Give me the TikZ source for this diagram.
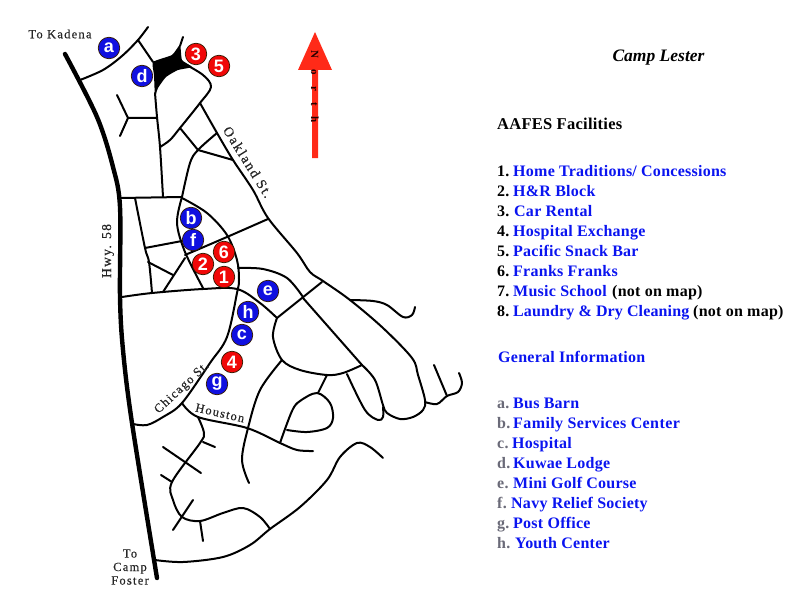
\documentclass[tikz,border=0pt]{standalone}
\usepackage{fontspec}
\setmainfont{Liberation Serif}
\newfontfamily\pinfont{Liberation Sans}[Scale=1]
\definecolor{linkblue}{HTML}{0A14F0}
\definecolor{pinblue}{HTML}{1010E0}
\definecolor{pinred}{HTML}{F00808}
\definecolor{arrowred}{HTML}{FF2A18}
\definecolor{labelgrey}{HTML}{6A6A78}
\definecolor{maptext}{HTML}{262626}
\tikzset{
  road/.style={line width=2pt,line cap=round,line join=round,black},
  highway/.style={line width=4.4pt,line cap=round,line join=round,black},
  pin/.style={circle,draw=black!80!orange,line width=0.7pt,text=white,minimum size=21.5pt,inner sep=0pt,font=\pinfont\bfseries\fontsize{18}{18}\selectfont},
  bluepin/.style={pin,fill=pinblue},
  redpin/.style={pin,fill=pinred},
  maplabel/.style={text=maptext,inner sep=0pt,font=\fontsize{12.5}{13.5}\selectfont\addfontfeature{LetterSpace=10,FakeBold=0.4}},
  listnum/.style={anchor=base west,inner sep=0pt,font=\bfseries\fontsize{16}{16}\selectfont\addfontfeature{LetterSpace=1.6},text=black},
  listgrey/.style={listnum,text=labelgrey},
  listlink/.style={listnum,text=linkblue},
}
\newcommand{\curve}[2][road]{\draw[#1] plot[smooth,tension=0.55] coordinates {#2};}
\begin{document}
\begin{tikzpicture}[x=1pt,y=-1pt]
\useasboundingbox (0,0) rectangle (800,591);
% highway
\curve[highway]{(65,54) (97,117) (113,167) (120,207) (120,297) (123,350) (132,423) (157,578)}
% junction blob
\fill[black] plot[smooth cycle,tension=0.3] coordinates {(153,62) (172,55) (180,45) (182,60) (192,67) (178,70) (166,77) (158,88) (155,96) (154,75)};
% north part
\curve{(80,80) (103,70) (122,56) (138,40) (148,27)}
\draw[road] (138,40) -- (153,62);
\draw[road] (180,46) -- (183,37);
\curve{(183,63) (203,75) (211,87) (200,103) (180,128) (170,140) (160,147)}
\curve{(155,93) (157,117) (160,147) (163,197)}
\draw[road] (157,118) -- (128,118) -- (117,95);
\draw[road] (128,118) -- (120,136);
\curve{(200,103) (217,133) (233,160) (253,190) (268,218) (297,253) (310,272) (323,281) (350,300) (383,328) (412,358) (418,375) (425,400) (423,410) (413,417) (400,419) (387,413) (383,405) (375,380) (362,365)}
\curve{(350,300) (373,301) (387,305) (403,317) (412,315) (415,307)}
\draw[road] (303,298) -- (362,365);
\curve{(182,197) (190,163) (198,150) (217,133)}
\draw[road] (180,128) -- (198,150) -- (233,160);
% centre
\draw[road] (120,198) -- (182,197);
\curve{(135,198) (145,248) (149,262) (152,293)}
\draw[road] (145,248) -- (182,241);
\draw[road] (148,262) -- (173,275);
\draw[road] (163,292) -- (185,258);
\curve{(185,255) (227,237) (268,219)}
\curve{(122,297) (152,293) (203,289) (237,289) (260,303) (277,318)}
\curve{(182,197) (177,223) (185,252) (203,288)}
\curve{(182,198) (207,213) (227,235) (237,260) (239,280) (237,293) (227,337) (210,363) (182,403) (163,417) (147,425) (133,424)}
\curve{(238,268) (263,269) (287,278) (303,297)}
\draw[road] (277,318) -- (322,282);
\curve{(277,318) (273,337) (282,360) (300,370) (327,375) (343,373) (362,365)}
\curve{(282,360) (260,390) (248,428) (242,460) (249,483)}
\draw[road] (327,375) -- (318,393);
\curve{(347,374) (365,410) (378,420) (383,417) (383,407)}
\curve{(425,402) (437,404) (447,396) (458,392) (462,383) (459,373)}
\draw[road] (434,365) -- (447,396);
% south part
\curve{(182,403) (198,417) (247,428) (280,443) (297,450) (313,451)}
\curve{(280,443) (292,411) (300,401) (317,393) (330,403) (333,418) (327,428) (307,432) (287,430)}
\curve{(198,417) (204,433) (200,443) (172,482) (173,500) (182,517) (200,521) (223,513) (243,508) (260,517) (270,529)}
\draw[road] (203,442) -- (215,447);
\draw[road] (163,447) -- (201,473);
\draw[road] (161,475) -- (172,482);
\draw[road] (193,500) -- (173,530);
\draw[road] (200,521) -- (203,541);
\curve{(155,560) (183,562) (223,557) (250,545) (270,529) (300,507) (327,480) (340,457) (357,443) (370,447) (383,458)}
% north arrow
\fill[arrowred] (315,32) -- (332,70) -- (318,70) -- (318,158) -- (312,158) -- (312,70) -- (298,70) -- cycle;
\node[rotate=-90,inner sep=0pt,text=black!85!red,font=\bfseries\fontsize{11}{11}\selectfont\addfontfeature{LetterSpace=100}] (north) at (315,87) {North};
% pins
\node[bluepin] (a) at (109,48) {a};
\node[bluepin] (d) at (142,76) {d};
\node[redpin] (p3) at (196,54) {3};
\node[redpin] (p5) at (219,66) {5};
\node[bluepin] (b) at (191,218) {b};
\node[bluepin] (f) at (193,240) {f};
\node[redpin] (p6) at (224,252) {6};
\node[redpin] (p2) at (203,264) {2};
\node[redpin] (p1) at (224,277) {1};
\node[bluepin] (e) at (268,291) {e};
\node[bluepin] (h) at (248,312) {h};
\node[bluepin] (c) at (242,335) {c};
\node[redpin] (p4) at (232,362) {4};
\node[bluepin] (g) at (217,384) {g};
% map labels
\node[maplabel] (kadena) at (60,34) {To Kadena};
\node[maplabel,rotate=-58,font=\fontsize{14}{14}\selectfont\addfontfeature{LetterSpace=12,FakeBold=0.4}] (oakland) at (248,162) {Oakland St.};
\node[maplabel,rotate=90,font=\fontsize{13.5}{14}\selectfont\addfontfeature{LetterSpace=10,FakeBold=0.4}] (hwy) at (108,251) {Hwy. 58};
\node[maplabel,rotate=43] (chicago) at (182,388) {Chicago St.};
\node[maplabel,rotate=-13] (houston) at (220,413) {Houston};
\node[maplabel,align=center] (foster) at (130,567) {To\\Camp\\Foster};
% right column
\node[inner sep=0pt,font=\bfseries\itshape\fontsize{17.5}{18}\selectfont] (title) at (658.5,58) {Camp Lester};
\node[listnum,font=\bfseries\fontsize{16.5}{16}\selectfont\addfontfeature{LetterSpace=1.6}] (aafes) at (497,130) {AAFES Facilities};
\node[listnum] (n1) at (497,176) {1.};
\node[listlink] (t1) at (513,176) {Home Traditions/ Concessions};
\node[listnum] (n2) at (497,196) {2.};
\node[listlink] (t2) at (513,196) {H\&R Block};
\node[listnum] (n3) at (497,216) {3.};
\node[listlink] (t3) at (514,216) {Car Rental};
\node[listnum] (n4) at (497,236) {4.};
\node[listlink] (t4) at (513,236) {Hospital Exchange};
\node[listnum] (n5) at (497,256) {5.};
\node[listlink] (t5) at (513,256) {Pacific Snack Bar};
\node[listnum] (n6) at (497,276) {6.};
\node[listlink] (t6) at (513,276) {Franks Franks};
\node[listnum] (n7) at (497,296) {7.};
\node[listlink] (t7) at (513,296) {Music School};
\node[listnum] (m7) at (612,296) {(not on map)};
\node[listnum] (n8) at (497,316) {8.};
\node[listlink,font=\bfseries\fontsize{16}{16}\selectfont\addfontfeature{LetterSpace=0.8}] (t8) at (513,316) {Laundry \& Dry Cleaning};
\node[listnum] (m8) at (693,316) {(not on map)};
\node[listlink] (general) at (498,362) {General Information};
\node[listgrey] (la) at (497,408) {a.};
\node[listlink] (ta) at (513,408) {Bus Barn};
\node[listgrey] (lb) at (497,428) {b.};
\node[listlink,font=\bfseries\fontsize{16}{16}\selectfont\addfontfeature{LetterSpace=2.5}] (tb) at (513,428) {Family Services Center};
\node[listgrey] (lc) at (497,448) {c.};
\node[listlink] (tc) at (512,448) {Hospital};
\node[listgrey] (ld) at (497,468) {d.};
\node[listlink] (td) at (513,468) {Kuwae Lodge};
\node[listgrey] (le) at (497,488) {e.};
\node[listlink] (te) at (513,488) {Mini Golf Course};
\node[listgrey] (lf) at (497,508) {f.};
\node[listlink] (tf) at (511,508) {Navy Relief Society};
\node[listgrey] (lg) at (497,528) {g.};
\node[listlink] (tg) at (513,528) {Post Office};
\node[listgrey] (lh) at (497,548) {h.};
\node[listlink] (th) at (515,548) {Youth Center};
\end{tikzpicture}
\end{document}
